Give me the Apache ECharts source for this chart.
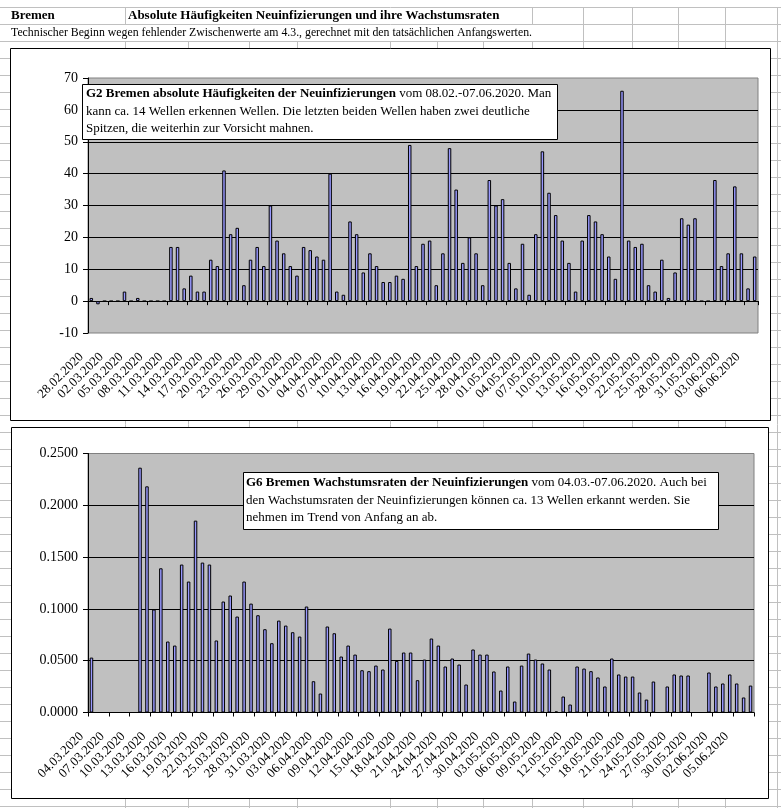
<!DOCTYPE html>
<html><head><meta charset="utf-8">
<script src="https://cdn.jsdelivr.net/npm/echarts@6/dist/echarts.min.js"></script>
<style>html,body{margin:0;padding:0;background:#fff}#c{width:781px;height:808px}</style>
</head><body><div id="c"></div>
<script>
// ---- data ----
const absDates = ("28.02.2020 29.02.2020 " +
 "01.03.2020 02.03.2020 03.03.2020 04.03.2020 05.03.2020 06.03.2020 07.03.2020 08.03.2020 09.03.2020 10.03.2020 " +
 "11.03.2020 12.03.2020 13.03.2020 14.03.2020 15.03.2020 16.03.2020 17.03.2020 18.03.2020 19.03.2020 20.03.2020 " +
 "21.03.2020 22.03.2020 23.03.2020 24.03.2020 25.03.2020 26.03.2020 27.03.2020 28.03.2020 29.03.2020 30.03.2020 31.03.2020 " +
 "01.04.2020 02.04.2020 03.04.2020 04.04.2020 05.04.2020 06.04.2020 07.04.2020 08.04.2020 09.04.2020 10.04.2020 " +
 "11.04.2020 12.04.2020 13.04.2020 14.04.2020 15.04.2020 16.04.2020 17.04.2020 18.04.2020 19.04.2020 20.04.2020 " +
 "21.04.2020 22.04.2020 23.04.2020 24.04.2020 25.04.2020 26.04.2020 27.04.2020 28.04.2020 29.04.2020 30.04.2020 " +
 "01.05.2020 02.05.2020 03.05.2020 04.05.2020 05.05.2020 06.05.2020 07.05.2020 08.05.2020 09.05.2020 10.05.2020 " +
 "11.05.2020 12.05.2020 13.05.2020 14.05.2020 15.05.2020 16.05.2020 17.05.2020 18.05.2020 19.05.2020 20.05.2020 " +
 "21.05.2020 22.05.2020 23.05.2020 24.05.2020 25.05.2020 26.05.2020 27.05.2020 28.05.2020 29.05.2020 30.05.2020 31.05.2020 " +
 "01.06.2020 02.06.2020 03.06.2020 04.06.2020 05.06.2020 06.06.2020 07.06.2020").split(' ');

const absValues = [
  1,-1,0,0,0,3,0,1,0,0,
  0,0,17,17,4,8,3,3,13,11,
  41,21,23,5,13,17,11,30,19,15,
  11,8,17,16,14,13,40,3,2,25,
  21,9,15,11,6,6,8,7,49,11,
  18,19,5,15,48,35,12,20,15,5,
  38,30,32,12,4,18,2,21,47,34,
  27,19,12,3,19,27,25,21,14,7,
  66,19,17,18,5,3,13,1,9,26,
  24,26,0,0,38,11,15,36,15,4,
  14
];

const rateDates = ("04.03.2020 05.03.2020 06.03.2020 07.03.2020 08.03.2020 09.03.2020 10.03.2020 " +
 "11.03.2020 12.03.2020 13.03.2020 14.03.2020 15.03.2020 16.03.2020 17.03.2020 18.03.2020 19.03.2020 20.03.2020 " +
 "21.03.2020 22.03.2020 23.03.2020 24.03.2020 25.03.2020 26.03.2020 27.03.2020 28.03.2020 29.03.2020 30.03.2020 31.03.2020 " +
 "01.04.2020 02.04.2020 03.04.2020 04.04.2020 05.04.2020 06.04.2020 07.04.2020 08.04.2020 09.04.2020 10.04.2020 " +
 "11.04.2020 12.04.2020 13.04.2020 14.04.2020 15.04.2020 16.04.2020 17.04.2020 18.04.2020 19.04.2020 20.04.2020 " +
 "21.04.2020 22.04.2020 23.04.2020 24.04.2020 25.04.2020 26.04.2020 27.04.2020 28.04.2020 29.04.2020 30.04.2020 " +
 "01.05.2020 02.05.2020 03.05.2020 04.05.2020 05.05.2020 06.05.2020 07.05.2020 08.05.2020 09.05.2020 10.05.2020 " +
 "11.05.2020 12.05.2020 13.05.2020 14.05.2020 15.05.2020 16.05.2020 17.05.2020 18.05.2020 19.05.2020 20.05.2020 " +
 "21.05.2020 22.05.2020 23.05.2020 24.05.2020 25.05.2020 26.05.2020 27.05.2020 28.05.2020 29.05.2020 30.05.2020 31.05.2020 " +
 "01.06.2020 02.06.2020 03.06.2020 04.06.2020 05.06.2020 06.06.2020 07.06.2020").split(' ');

const rateValues = [
  0.0530,0,0,0,0,0,0,0.2363,0.2183,0.0994,
  0.1392,0.0685,0.0646,0.1428,0.1264,0.1852,0.1447,0.1428,0.0695,0.1071,
  0.1129,0.0926,0.1264,0.1051,0.0939,0.0804,0.0669,0.0887,0.0839,0.0775,
  0.0733,0.1023,0.0302,0.0183,0.0830,0.0765,0.0540,0.0646,0.0559,0.0408,
  0.0399,0.0453,0.0415,0.0810,0.0498,0.0579,0.0579,0.0312,0.0511,0.0714,
  0.0646,0.0444,0.0521,0.0463,0.0270,0.0608,0.0559,0.0559,0.0396,0.0212,
  0.0444,0.0106,0.0453,0.0569,0.0511,0.0473,0.0415,0.0010,0.0154,0.0077,
  0.0444,0.0424,0.0399,0.0338,0.0251,0.0521,0.0367,0.0347,0.0347,0.0193,
  0.0125,0.0299,0,0.0251,0.0367,0.0357,0.0357,0,0,0.0386,
  0.0251,0.0280,0.0367,0.0280,0.0145,0.0260
];

const absAxis = {min: -10, max: 70, interval: 10};
const rateAxis = {min: 0, max: 0.25, interval: 0.05};

// ---- styling ----
const SERIF = "'Liberation Serif','Times New Roman',serif";
const GRIDC = '#c0c0c0';

const chart = echarts.init(document.getElementById('c'));

const graphics = [];
// spreadsheet grid behind everything
for (let y = 7; y < 808; y += 17) {
  graphics.push({type:'line', z:-100, shape:{x1:0,y1:y+0.5,x2:781,y2:y+0.5}, style:{stroke:GRIDC,lineWidth:1}});
}
const cols = [125,188,249,297,390,437,483,532,583,632,678,725,777];
cols.forEach(x => graphics.push({type:'line', z:-100, shape:{x1:x+0.5,y1:41,x2:x+0.5,y2:808}, style:{stroke:GRIDC,lineWidth:1}}));
[125,532,583,632,678,725,777].forEach(x => graphics.push({type:'line', z:-100, shape:{x1:x+0.5,y1:7,x2:x+0.5,y2:24}, style:{stroke:GRIDC,lineWidth:1}}));
[583,632,678,725,777].forEach(x => graphics.push({type:'line', z:-100, shape:{x1:x+0.5,y1:24,x2:x+0.5,y2:41}, style:{stroke:GRIDC,lineWidth:1}}));

// header texts
graphics.push({type:'text', z:-90, x:11, y:16, style:{text:'Bremen', font:"bold 13px "+SERIF, fill:'#000', verticalAlign:'middle'}});
graphics.push({type:'text', z:-90, x:128, y:16, style:{text:'Absolute Häufigkeiten Neuinfizierungen und ihre Wachstumsraten', font:"bold 13px "+SERIF, fill:'#000', verticalAlign:'middle'}});
graphics.push({type:'text', z:-90, x:11, y:33, style:{text:'Technischer Beginn wegen fehlender Zwischenwerte am 4.3., gerechnet mit den tatsächlichen Anfangswerten.', font:"11.8px "+SERIF, fill:'#000', verticalAlign:'middle'}});

// chart frames
graphics.push({type:'rect', z:-80, shape:{x:10.5,y:48.5,width:760,height:372}, style:{fill:'#fff',stroke:'#000',lineWidth:1}});
graphics.push({type:'rect', z:-80, shape:{x:11.5,y:427.5,width:757,height:371}, style:{fill:'#fff',stroke:'#000',lineWidth:1}});

// annotation boxes
const richStyle = {
  b:{fontFamily:SERIF, fontSize:13, fontWeight:'bold', lineHeight:17.5, color:'#000'},
  n:{fontFamily:SERIF, fontSize:13, lineHeight:17.5, color:'#000'}
};
graphics.push({type:'rect', z:100, shape:{x:82.5,y:84.5,width:475,height:55}, style:{fill:'#fff',stroke:'#000',lineWidth:1}});
graphics.push({type:'text', z:101, x:86, y:85, style:{
  text:'{b|G2 Bremen absolute Häufigkeiten der Neuinfizierungen}{n| vom 08.02.-07.06.2020. Man}\n{n|kann ca. 14 Wellen erkennen Wellen. Die letzten beiden Wellen haben zwei deutliche}\n{n|Spitzen, die weiterhin zur Vorsicht mahnen.}',
  rich:richStyle, verticalAlign:'top'}});
graphics.push({type:'rect', z:100, shape:{x:243.5,y:472.5,width:475,height:57}, style:{fill:'#fff',stroke:'#000',lineWidth:1}});
graphics.push({type:'text', z:101, x:246, y:474, style:{
  text:'{b|G6 Bremen Wachstumsraten der Neuinfizierungen}{n| vom 04.03.-07.06.2020. Auch bei}\n{n|den Wachstumsraten der Neuinfizierungen können ca. 13 Wellen erkannt werden. Sie}\n{n|nehmen im Trend von Anfang an ab.}',
  rich:richStyle, verticalAlign:'top'}});

const xLabel = {interval:2, rotate:45, fontFamily:SERIF, fontSize:13, color:'#000', margin:12, padding:[0,14,0,0]};
const yLabelBase = {fontFamily:SERIF, fontSize:14, color:'#000', margin:10};
const barStyle = {color:'#9999FF', borderColor:'#000', borderWidth:1};

chart.setOption({
  animation:false,
  backgroundColor:'transparent',
  graphic: graphics,
  grid:[
    {left:88, top:78, width:670, height:255, show:true, backgroundColor:'#C0C0C0', borderColor:'#808080', borderWidth:1},
    {left:88, top:453.5, width:666, height:259, show:true, backgroundColor:'#C0C0C0', borderColor:'#808080', borderWidth:1}
  ],
  xAxis:[
    {gridIndex:0, type:'category', data:absDates, position:'bottom',
     axisLine:{show:false, onZero:false}, axisTick:{show:false}, splitLine:{show:false},
     axisLabel:xLabel},
    {gridIndex:0, type:'category', data:absDates, position:'bottom',
     axisLine:{show:true, onZero:true, lineStyle:{color:'#000', width:1}},
     axisTick:{show:true, interval:2, length:4, lineStyle:{color:'#000'}},
     axisLabel:{show:false}, splitLine:{show:false}},
    {gridIndex:1, type:'category', data:rateDates, position:'bottom',
     axisLine:{show:true, lineStyle:{color:'#000', width:1}},
     axisTick:{show:true, interval:2, length:4, lineStyle:{color:'#000'}},
     axisLabel:xLabel, splitLine:{show:false}}
  ],
  yAxis:[
    {gridIndex:0, type:'value', min:absAxis.min, max:absAxis.max, interval:absAxis.interval,
     axisLine:{show:true, lineStyle:{color:'#000'}}, axisTick:{show:true, length:5, lineStyle:{color:'#000'}},
     axisLabel:yLabelBase,
     splitLine:{show:true, showMinLine:false, showMaxLine:false, lineStyle:{color:'#000', width:1}}},
    {gridIndex:1, type:'value', min:rateAxis.min, max:rateAxis.max, interval:rateAxis.interval,
     axisLine:{show:true, lineStyle:{color:'#000'}}, axisTick:{show:true, length:5, lineStyle:{color:'#000'}},
     axisLabel:Object.assign({}, yLabelBase, {formatter: v => v.toFixed(4)}),
     splitLine:{show:true, showMinLine:false, showMaxLine:false, lineStyle:{color:'#000', width:1}}}
  ],
  series:[
    {type:'bar', xAxisIndex:0, yAxisIndex:0, data:absValues, barWidth:3.5, itemStyle:barStyle, silent:true},
    {type:'bar', xAxisIndex:2, yAxisIndex:1, data:rateValues, barWidth:3.5, itemStyle:barStyle, silent:true}
  ]
});
</script></body></html>
